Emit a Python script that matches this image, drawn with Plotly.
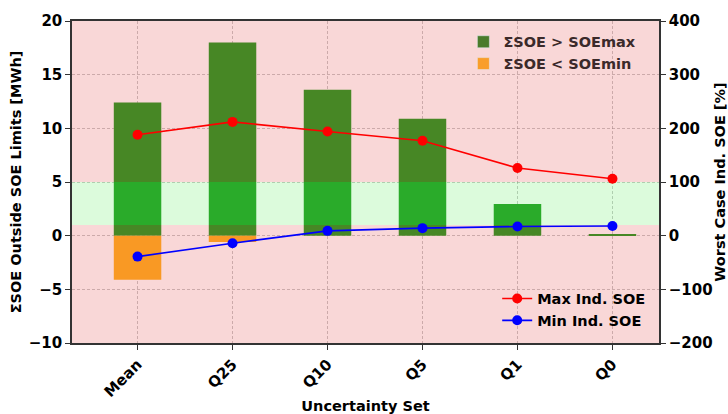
import plotly.graph_objects as go

categories = ["Mean", "Q25", "Q10", "Q5", "Q1", "Q0"]
soe_above_max = [12.4, 18.0, 13.6, 10.9, 2.95, 0.1]
soe_below_min = [-4.1, -0.6, 0.0, 0.0, 0.0, 0.0]
max_ind_soe = [188, 212, 194, 177, 126, 106]
min_ind_soe = [-39, -14, 9, 14, 17, 18]

y1_range = [-10, 20]
y2_range = [-200, 400]
x_range = [-0.69, 5.49]
band = [1, 5]

xs = list(range(len(categories)))
FONT = "DejaVu Sans"
fig = go.Figure()

fig.add_trace(go.Bar(x=xs, y=soe_above_max, width=0.5, marker=dict(color="#2ca02c", line_width=0),
                     showlegend=False, hoverinfo="skip"))
fig.add_trace(go.Bar(x=xs, y=soe_below_min, width=0.5, marker=dict(color="#ffb52a", line_width=0),
                     showlegend=False, hoverinfo="skip"))

# overlay regions (red outside limits, green inside)
def rect(y0, y1, color):
    fig.add_trace(go.Scatter(x=[x_range[0], x_range[1], x_range[1], x_range[0], x_range[0]],
                             y=[y0, y0, y1, y1, y0], mode="lines", line=dict(width=0),
                             fill="toself", fillcolor=color, showlegend=False, hoverinfo="skip"))

rect(y1_range[0], band[0], "rgba(217,5,5,0.16)")
rect(band[1], y1_range[1], "rgba(217,5,5,0.16)")
rect(band[0], band[1], "rgba(40,230,40,0.16)")

# legend entries for bars (colours as seen under overlay)
fig.add_trace(go.Bar(x=[None], y=[None], marker_color="#4a7b2b", name="ΣSOE > SOEmax", legend="legend"))
fig.add_trace(go.Bar(x=[None], y=[None], marker_color="#f99e2a", name="ΣSOE < SOEmin", legend="legend"))

fig.add_trace(go.Scatter(x=xs, y=max_ind_soe, yaxis="y2", mode="lines+markers", name="Max Ind. SOE",
                         line=dict(color="red", width=1.6), marker=dict(color="red", size=10), legend="legend2"))
fig.add_trace(go.Scatter(x=xs, y=min_ind_soe, yaxis="y2", mode="lines+markers", name="Min Ind. SOE",
                         line=dict(color="blue", width=1.6), marker=dict(color="blue", size=10), legend="legend2"))

tickfont = dict(family=FONT, size=15, color="black", weight="bold")
titlefont = dict(family=FONT, size=14.5, color="black", weight="bold")
grid = dict(showgrid=True, gridcolor="rgba(150,150,150,0.5)", griddash="3px,2px", gridwidth=1)
fig.update_layout(
    width=728, height=414,
    margin=dict(l=72, r=69, t=21, b=71),
    barmode="overlay",
    plot_bgcolor="white", paper_bgcolor="white",
    font=dict(family=FONT, color="black"),
    xaxis=dict(range=x_range, tickvals=xs, ticktext=categories, tickangle=-45, automargin=False,
               tickfont=tickfont, **grid, ticks="outside", ticklen=5, tickcolor="#333",
               showline=True, linecolor="#333", linewidth=1.5, mirror=True, zeroline=False,
               title=dict(text="Uncertainty Set", font=titlefont)),
    yaxis=dict(range=y1_range, dtick=5, tickfont=tickfont, **grid, automargin=True,
               ticks="outside", ticklen=5, tickcolor="#333", zeroline=False,
               showline=True, linecolor="#333", linewidth=1.5,
               title=dict(text="ΣSOE Outside SOE Limits [MWh]", font=titlefont, standoff=4)),
    yaxis2=dict(range=y2_range, dtick=100, overlaying="y", side="right", tickfont=tickfont,
                showgrid=False, zeroline=False, ticks="outside", ticklen=5, tickcolor="#333",
                showline=True, linecolor="#333", linewidth=1.5, automargin=False,
                title=dict(text="Worst Case Ind. SOE [%]", font=titlefont)),
    legend=dict(x=0.97, y=0.985, xanchor="right", yanchor="top", bgcolor="rgba(0,0,0,0)",
                font=dict(family=FONT, size=14.5, color="#3b2a2a", weight="bold"), tracegroupgap=0),
    legend2=dict(x=0.985, y=0.02, xanchor="right", yanchor="bottom", bgcolor="rgba(0,0,0,0)",
                 font=dict(family=FONT, size=14.5, color="black", weight="bold"), tracegroupgap=0),
)

fig.write_html("out.html")
